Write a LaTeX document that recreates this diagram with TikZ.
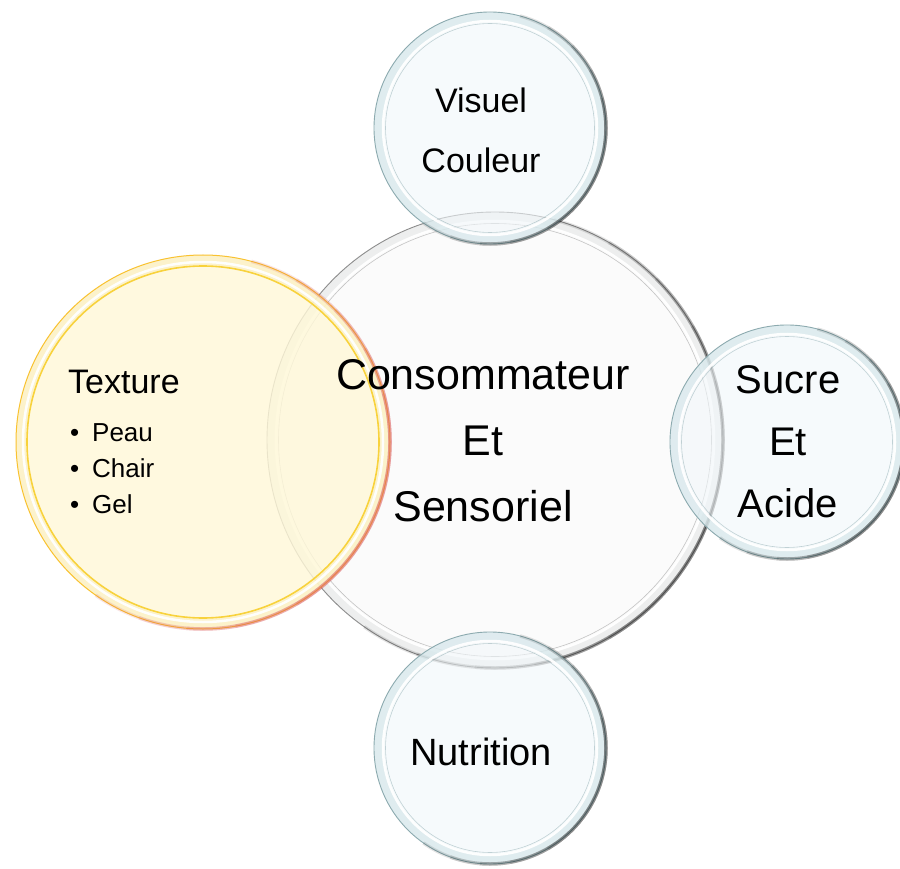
\documentclass[tikz,border=0pt]{standalone}
\usepackage{fontspec}
\setmainfont{Liberation Sans}
\usetikzlibrary{calc}
\definecolor{bigin}{RGB}{250,250,250}
\definecolor{bigrim}{RGB}{226,228,228}
\definecolor{bigline}{RGB}{140,140,140}
\definecolor{smin}{RGB}{241,247,250}
\definecolor{smrim}{RGB}{205,226,230}
\definecolor{smline}{RGB}{140,170,175}
\definecolor{texin}{RGB}{255,248,216}
\definecolor{texrim}{RGB}{250,238,190}
\definecolor{texring}{RGB}{248,210,60}
\definecolor{texred}{RGB}{222,95,95}
\newcommand\softarc[5]{% node, radius, colour, line width, opacity
  \draw[#3, line width=#4, opacity=#5] (#1.75) arc[start angle=75, end angle=-125, radius=#2pt];
  \draw[#3, line width=#4, opacity=#5] (#1.60) arc[start angle=60, end angle=-110, radius=#2pt];
  \draw[#3, line width=#4, opacity=#5] (#1.45) arc[start angle=45, end angle=-95, radius=#2pt];
  \draw[#3, line width=#4, opacity=#5] (#1.30) arc[start angle=30, end angle=-80, radius=#2pt];
  \draw[#3, line width=#4, opacity=#5] (#1.15) arc[start angle=15, end angle=-60, radius=#2pt];
}
\newcommand\glassrings[4]{%
  \draw[#3, line width=10pt, opacity=0.55] (#1.center) circle[radius=#2pt-5pt];
  \draw[white, line width=2.5pt, opacity=0.95] (#1.center) circle[radius=#2pt-9pt];
  \draw[#4, line width=0.6pt, opacity=0.5] (#1.center) circle[radius=#2pt-11.5pt];
  \draw[#4, line width=0.9pt] (#1.center) circle[radius=#2pt];
  \softarc{#1}{#2}{black}{3.5pt}{0.11}
}
\tikzset{
  bubble/.style={circle, inner sep=0pt, outer sep=0pt, minimum size=#1},
  lbl/.style={text=black, align=center, inner sep=0pt}
}
\begin{document}
\begin{tikzpicture}[x=1pt, y=-1pt]
\fill[white] (0,0) rectangle (900,869);
\useasboundingbox (0,0) rectangle (900,869);
% central bubble
\node[bubble=456pt, fill=bigin, fill opacity=0.7] (big) at (495,440) {};
\glassrings{big}{228}{bigrim}{bigline}
% small bubbles
\node[bubble=232pt, fill=smin, fill opacity=0.6] (top) at (490,128) {};
\glassrings{top}{116}{smrim}{smline}
\node[bubble=234pt, fill=smin, fill opacity=0.6] (right) at (787,442) {};
\glassrings{right}{117}{smrim}{smline}
\node[bubble=232pt, fill=smin, fill opacity=0.6] (bottom) at (490,748) {};
\glassrings{bottom}{116}{smrim}{smline}
% texture bubble
\node[bubble=374pt, fill=texin, fill opacity=0.82] (tex) at (203,442) {};
\draw[texrim, line width=10pt, opacity=0.6] (tex.center) circle[radius=182pt];
\draw[white, line width=2.5pt, opacity=0.95] (tex.center) circle[radius=180pt];
\draw[texring, line width=1.6pt] (tex.center) circle[radius=176pt];
\draw[texring!80!orange, line width=1pt] (tex.center) circle[radius=187pt];
\softarc{tex}{187}{texred}{3.5pt}{0.17}
% texts
\node[lbl, font=\fontsize{34}{60}\selectfont] (tvis) at (481,130) {Visuel\\Couleur};
\node[lbl, font=\fontsize{43}{66}\selectfont] (tcons) at (483,441) {Consommateur\\Et\\Sensoriel};
\node[lbl, font=\fontsize{40}{62}\selectfont] (tsuc) at (788,442) {Sucre\\Et\\Acide};
\node[lbl, font=\fontsize{38}{46}\selectfont] (tnut) at (481,752) {Nutrition};
\node[lbl, font=\fontsize{34}{40}\selectfont, anchor=west] (ttex) at (68,382) {Texture};
\node[lbl, align=left, font=\fontsize{26}{36}\selectfont, anchor=west] (tbul) at (70,469)
  {\makebox[22pt][l]{\textbullet}Peau\\\makebox[22pt][l]{\textbullet}Chair\\\makebox[22pt][l]{\textbullet}Gel};
\end{tikzpicture}
\end{document}
